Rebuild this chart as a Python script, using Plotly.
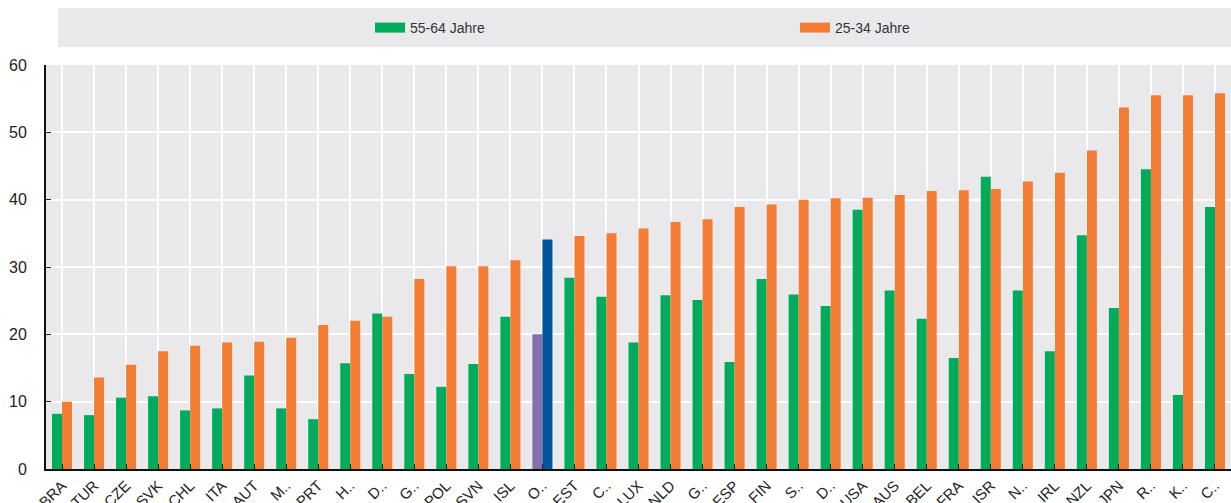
import plotly.graph_objects as go

countries = ["BRA", "TUR", "CZE", "SVK", "CHL", "ITA", "AUT", "M..", "PRT", "H..", "D..", "G..",
             "POL", "SVN", "ISL", "O..", "EST", "C..", "LUX", "NLD", "G..", "ESP", "FIN", "S..",
             "D..", "USA", "AUS", "BEL", "FRA", "ISR", "N..", "IRL", "NZL", "JPN", "R..", "K..", "C.."]
age_55_64 = [8.2, 8.0, 10.6, 10.8, 8.7, 9.0, 13.9, 9.0, 7.4, 15.7, 23.1, 14.1,
             12.2, 15.6, 22.6, 20.0, 28.4, 25.6, 18.8, 25.8, 25.1, 15.9, 28.2, 25.9,
             24.2, 38.5, 26.5, 22.3, 16.5, 43.4, 26.5, 17.5, 34.7, 23.9, 44.5, 11.0, 38.9]
age_25_34 = [10.0, 13.6, 15.5, 17.5, 18.3, 18.8, 18.9, 19.5, 21.4, 22.0, 22.6, 28.2,
             30.1, 30.1, 31.0, 34.1, 34.6, 35.0, 35.7, 36.7, 37.1, 38.9, 39.3, 40.0,
             40.2, 40.3, 40.7, 41.3, 41.4, 41.6, 42.7, 44.0, 47.3, 53.7, 55.5, 55.5, 55.8]
series_names = ["55-64 Jahre", "25-34 Jahre"]
highlight = "O.."

x_idx = list(range(len(countries)))
GREEN, ORANGE, PURPLE, BLUE = "#00ac5b", "#f47d36", "#8470aa", "#00559b"
c_old = [PURPLE if c == highlight else GREEN for c in countries]
c_young = [BLUE if c == highlight else ORANGE for c in countries]

fig = go.Figure()
fig.add_trace(go.Bar(x=x_idx, y=age_55_64, name=series_names[0], showlegend=False,
                     marker=dict(color=c_old, line=dict(width=0))))
fig.add_trace(go.Bar(x=x_idx, y=age_25_34, name=series_names[1], showlegend=False,
                     marker=dict(color=c_young, line=dict(width=0))))
# legend entries (rectangular swatches)
fig.add_trace(go.Scatter(x=[None], y=[None], mode="lines", name=series_names[0],
                         line=dict(color=GREEN, width=11), legend="legend"))
fig.add_trace(go.Scatter(x=[None], y=[None], mode="lines", name=series_names[1],
                         line=dict(color=ORANGE, width=11), legend="legend2"))

L, R, T, B = 46, 0, 65, 34
W, H = 1231, 503
pw, ph = W - L - R, H - T - B

fig.add_shape(type="rect", xref="paper", yref="paper",
              x0=(58 - L) / pw, x1=1.0, y0=(H - B - 47) / ph, y1=(H - B - 8) / ph,
              fillcolor="#e9e9ec", line=dict(width=0), layer="below")

leg_font = dict(family="Liberation Sans, Arial, sans-serif", size=14, color="#333333")
ly = (H - B - 28) / ph
fig.update_layout(
    width=W, height=H,
    margin=dict(l=L, r=R, t=T, b=B, pad=0, autoexpand=False),
    paper_bgcolor="white", plot_bgcolor="#e9e9ec",
    barmode="group", bargap=0.375, bargroupgap=0,
    font=dict(family="Liberation Sans, Arial, sans-serif", color="#333333"),
    showlegend=True,
    legend=dict(orientation="h", x=(370 - L) / pw, xanchor="left", y=ly, yanchor="middle",
                bgcolor="rgba(0,0,0,0)", font=leg_font, borderwidth=0),
    legend2=dict(orientation="h", x=(795 - L) / pw, xanchor="left", y=ly, yanchor="middle",
                 bgcolor="rgba(0,0,0,0)", font=leg_font, borderwidth=0),
)
fig.update_xaxes(
    tickmode="array", tickvals=x_idx, ticktext=countries, tickangle=-45,
    range=[-0.5, len(countries) - 0.5], automargin=False,
    tickson="boundaries", ticks="inside", ticklen=5, tickcolor="#222222",
    showgrid=True, gridcolor="white", gridwidth=2,
    showline=True, linecolor="#111111", linewidth=2,
    tickfont=dict(size=15, color="#222222"), zeroline=False,
)
fig.update_yaxes(
    range=[0, 60], dtick=10, ticks="inside", ticklen=5, tickcolor="#222222",
    showgrid=True, gridcolor="white", gridwidth=2, automargin=False,
    showline=True, linecolor="#111111", linewidth=2, ticklabelstandoff=14,
    tickfont=dict(size=16, color="#222222"), zeroline=False,
)

fig.write_html("out.html", config={"displayModeBar": False},
               post_script="document.body.style.margin='0px';document.body.style.overflow='hidden';")
